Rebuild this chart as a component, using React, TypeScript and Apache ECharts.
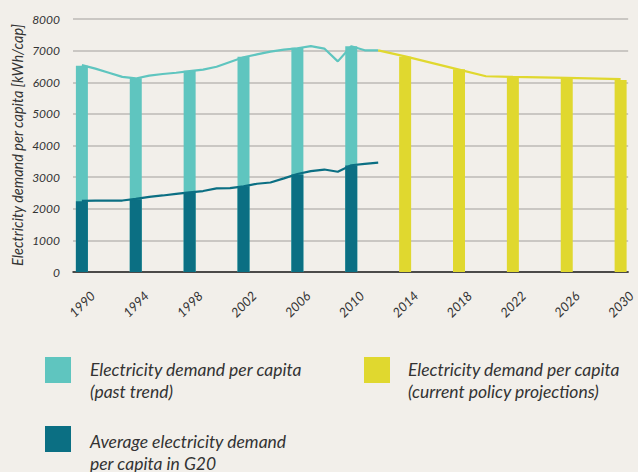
import React, { useEffect, useRef } from "react";
import * as echarts from "echarts";

const yTicks = [0, 1000, 2000, 3000, 4000, 5000, 6000, 7000, 8000];
const xTickYears = [1990, 1994, 1998, 2002, 2006, 2010, 2014, 2018, 2022, 2026, 2030];

const pastYears = [1990, 1991, 1992, 1993, 1994, 1995, 1996, 1997, 1998, 1999, 2000, 2001, 2002, 2003, 2004, 2005, 2006, 2007, 2008, 2009, 2010, 2011, 2012];
const pastTrend = [6540, 6430, 6300, 6170, 6120, 6210, 6260, 6300, 6350, 6400, 6490, 6640, 6790, 6880, 6970, 7030, 7075, 7140, 7065, 6660, 7140, 7010, 7010];
const g20Avg = [2250, 2260, 2255, 2260, 2310, 2375, 2420, 2470, 2520, 2560, 2645, 2650, 2710, 2790, 2830, 2960, 3100, 3190, 3240, 3170, 3375, 3420, 3460];

const pastBarYears = [1990, 1994, 1998, 2002, 2006, 2010];
const pastBarTotal = [6525, 6125, 6360, 6810, 7090, 7140];
const pastBarG20 = [2240, 2300, 2520, 2710, 3085, 3365];

const projLineYears = [2012, 2014, 2018, 2020, 2022, 2026, 2030];
const projLine = [7010, 6820, 6400, 6190, 6170, 6140, 6100];
const projBarYears = [2014, 2018, 2022, 2026, 2030];
const projBar = [6810, 6410, 6180, 6140, 6070];

const legendItems = [
  "Electricity demand per capita\n(past trend)",
  "Electricity demand per capita\n(current policy projections)",
  "Average electricity demand\nper capita in G20",
];

const LIGHT = "#5fc5bf";
const DARK = "#0b6f83";
const YELLOW = "#e0d82f";
const BG = "#f2efea";
const TEXT = "#333333";
const FONT = "Lato";

const zip = (xs: number[], ys: number[]) => xs.map((x, i) => [x, ys[i]]);

export default function App() {
  const ref = useRef<HTMLDivElement>(null);
  useEffect(() => {
    if (!ref.current) return;
    const chart = echarts.init(ref.current, undefined, { renderer: "svg" });
    const legendText = (x: number, y: number, t: string) => ({
      type: "text",
      x,
      y,
      style: {
        text: t,
        fontFamily: FONT,
        fontStyle: "italic",
        fontSize: 17.5,
        lineHeight: 22,
        fill: TEXT,
        textVerticalAlign: "top",
      },
    });
    chart.setOption({
      animation: false,
      backgroundColor: BG,
      grid: { left: 73, right: 5, top: 19, bottom: 200 },
      xAxis: {
        type: "value",
        min: 1989.34,
        max: 2030.56,
        splitLine: { show: false },
        axisTick: { show: false },
        axisLine: { show: true, onZero: false, lineStyle: { color: "#222", width: 1.5 } },
        axisLabel: {
          customValues: xTickYears,
          rotate: 45,
          align: "center",
          verticalAlign: "middle",
          margin: 32,
          fontFamily: FONT,
          fontStyle: "italic",
          fontSize: 13,
          color: TEXT,
          formatter: (v: number) => String(v),
        },
      },
      yAxis: {
        type: "value",
        min: yTicks[0],
        max: yTicks[yTicks.length - 1],
        interval: 1000,
        axisLine: { show: false },
        axisTick: { show: false },
        splitLine: { lineStyle: { color: "#bcbab6", width: 1.5 } },
        axisLabel: {
          margin: 13,
          fontFamily: FONT,
          fontStyle: "italic",
          fontSize: 12,
          color: TEXT,
          formatter: (v: number) => String(v),
        },
      },
      graphic: [
        {
          type: "text",
          x: 17,
          y: 145,
          rotation: Math.PI / 2,
          style: {
            text: "Electricity demand per capita [kWh/cap]",
            fontFamily: FONT,
            fontStyle: "italic",
            fontSize: 14.5,
            fill: TEXT,
            textAlign: "center",
            textVerticalAlign: "middle",
          },
        },
        { type: "rect", shape: { x: 45, y: 357, width: 26, height: 26 }, style: { fill: LIGHT } },
        { type: "rect", shape: { x: 364, y: 357, width: 26, height: 26 }, style: { fill: YELLOW } },
        { type: "rect", shape: { x: 45, y: 426, width: 26, height: 26 }, style: { fill: DARK } },
        legendText(90, 358, legendItems[0]),
        legendText(408, 358, legendItems[1]),
        legendText(90, 430, legendItems[2]),
      ],
      series: [
        {
          type: "bar",
          data: zip(pastBarYears, pastBarTotal),
          barWidth: 12,
          barGap: "-100%",
          itemStyle: { color: LIGHT },
          z: 2,
        },
        {
          type: "bar",
          data: zip(pastBarYears, pastBarG20),
          barWidth: 12,
          barGap: "-100%",
          itemStyle: { color: DARK },
          z: 3,
        },
        {
          type: "bar",
          data: zip(projBarYears, projBar),
          barWidth: 12,
          barGap: "-100%",
          itemStyle: { color: YELLOW },
          z: 2,
        },
        {
          type: "line",
          data: zip(pastYears, pastTrend),
          symbol: "none",
          lineStyle: { color: LIGHT, width: 2.2 },
          z: 4,
        },
        {
          type: "line",
          data: zip(pastYears, g20Avg),
          symbol: "none",
          lineStyle: { color: DARK, width: 2.2 },
          z: 4,
        },
        {
          type: "line",
          data: zip(projLineYears, projLine),
          symbol: "none",
          lineStyle: { color: YELLOW, width: 2.2 },
          z: 4,
        },
      ],
    });
    return () => chart.dispose();
  }, []);
  return (
    <div
      ref={ref}
      style={{ position: "fixed", left: 0, top: 0, width: 638, height: 472, background: BG }}
    />
  );
}
